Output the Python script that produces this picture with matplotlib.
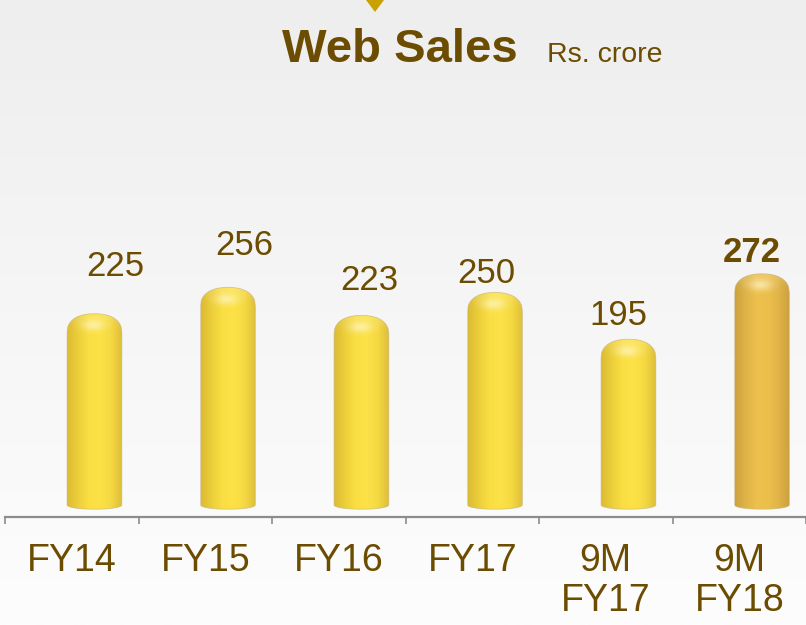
import numpy as np
import matplotlib
matplotlib.use("Agg")
import matplotlib.pyplot as plt
from matplotlib.path import Path
from matplotlib.patches import PathPatch, Polygon
from matplotlib.colors import LinearSegmentedColormap

# data
categories = ["FY14", "FY15", "FY16", "FY17", "9M\nFY17", "9M\nFY18"]
values = [225, 256, 223, 250, 195, 272]
bold_last = [False, False, False, False, False, True]
# label offsets (points) relative to bar top
label_dx = [15, 12, 6, -6, -7, -7]
label_dy = [34, 30, 25.5, 14, 17, 15]

brown = "#6B4C00"
plt.rcParams["font.family"] = ["Liberation Sans", "DejaVu Sans"]

fig = plt.figure(figsize=(8.06, 6.25), dpi=100)

# background gradient
bg = fig.add_axes([0, 0, 1, 1])
bg.axis("off")
grad = np.linspace(0, 1, 256).reshape(-1, 1)
bg_cmap = LinearSegmentedColormap.from_list("bg", ["#EEEEEE", "#F6F6F6", "#FDFDFD"])
bg.imshow(grad, cmap=bg_cmap, aspect="auto", extent=[0, 1, 0, 1])
bg.set_xlim(0, 1)
bg.set_ylim(0, 1)
# little marker triangle at top
bg.add_patch(Polygon([[366 / 806, 1], [384 / 806, 1], [375 / 806, 1 - 12 / 625]],
                     closed=True, color="#C9A100", lw=0))

W, H = 806, 625
ax = fig.add_axes([5 / W, 1 - 517 / H, (W - 5) / W, (517 - 80) / H])
ax.patch.set_alpha(0)

n = len(values)
xpos = np.arange(n) + 0.17
bw = 0.41
bars = ax.bar(xpos, values, bw, color="none", edgecolor="none")

yel = LinearSegmentedColormap.from_list(
    "yel", ["#DCBB35", "#EDCF3A", "#FADF44", "#FCE247", "#F5D942", "#DEBE3A"])
gold = LinearSegmentedColormap.from_list(
    "gold", ["#CDA23F", "#E0B447", "#EDC14E", "#ECBF4D", "#E0B447", "#CB9F3E"])

# soft highlight spot
gy, gx = np.mgrid[-1:1:64j, -1:1:64j]
spot = np.zeros((64, 64, 4))
spot[..., :3] = (1.0, 0.98, 0.85)
spot[..., 3] = 0.6 * np.exp(-(gx ** 2 + gy ** 2) * 2.5)

cap = 22.0   # dome height in data units
bot = 5.0    # bottom curve depth
for i, b in enumerate(bars):
    x0 = b.get_x()
    w = b.get_width()
    h = b.get_height()
    xc = x0 + w / 2
    t = np.linspace(-1, 1, 80)
    p = 2.3
    dome = (1 - np.abs(t) ** p) ** (1 / p)
    top_x = xc + t * w / 2
    top_y = h - cap + cap * dome
    bot_x = xc - t * w / 2
    bot_y = -bot * np.sqrt(1 - t ** 2)
    verts = np.vstack([np.column_stack([top_x, top_y]),
                       np.column_stack([bot_x, bot_y])])
    path = Path(np.vstack([verts, verts[:1]]), closed=True)
    patch = PathPatch(path, facecolor="none", edgecolor="#C8B47E", lw=0.6,
                      alpha=0.7, zorder=5)
    ax.add_patch(patch)
    cm = gold if bold_last[i] else yel
    img = ax.imshow(np.linspace(0, 1, 128).reshape(1, -1), cmap=cm, aspect="auto",
                    extent=[x0, x0 + w, -bot, h], zorder=2, interpolation="bilinear")
    img.set_clip_path(patch)
    # light top rim
    rim = np.zeros((64, 1, 4))
    rim[..., :3] = 1.0
    rim[:, 0, 3] = np.linspace(0.3, 0.0, 64) ** 1.5
    rim_img = ax.imshow(rim, aspect="auto", extent=[x0, x0 + w, h - cap, h],
                        zorder=3, interpolation="bilinear")
    rim_img.set_clip_path(patch)
    hs = ax.imshow(spot, aspect="auto", interpolation="bilinear", zorder=4,
                   extent=[xc - w * 0.36, xc + w * 0.3, h - cap * 1.1, h - cap * 0.15])
    hs.set_clip_path(patch)

    ax.annotate(str(values[i]), (xc, h), xytext=(label_dx[i], label_dy[i]),
                textcoords="offset points", ha="center", va="center",
                fontsize=25, color=brown,
                fontweight="bold" if bold_last[i] else "normal")

ax.set_xlim(-0.5, -0.5 + (W - 5) / 134)
ax.set_ylim(-14.1, 500)

for s in ["top", "right", "left"]:
    ax.spines[s].set_visible(False)
ax.spines["bottom"].set_color("#8C8C8C")
ax.spines["bottom"].set_linewidth(1.6)
ax.set_yticks([])
ax.set_xticks(np.arange(n + 1) - 0.5)
ax.set_xticklabels([])
ax.tick_params(axis="x", which="major", length=5, width=1.2, color="#8C8C8C")
ax.set_xticks(np.arange(n), minor=True)
ax.set_xticklabels(categories, minor=True, fontsize=27, color=brown,
                   linespacing=1.17, va="top")
ax.tick_params(axis="x", which="minor", length=0, pad=18.5)

fig.text(282 / W, 1 - 62 / H, "Web Sales", fontsize=34, fontweight="bold",
         color=brown, ha="left", va="baseline")
fig.text(547 / W, 1 - 62 / H, "Rs. crore", fontsize=20.5, color=brown,
         ha="left", va="baseline")

fig.savefig("out.png", dpi=100)
